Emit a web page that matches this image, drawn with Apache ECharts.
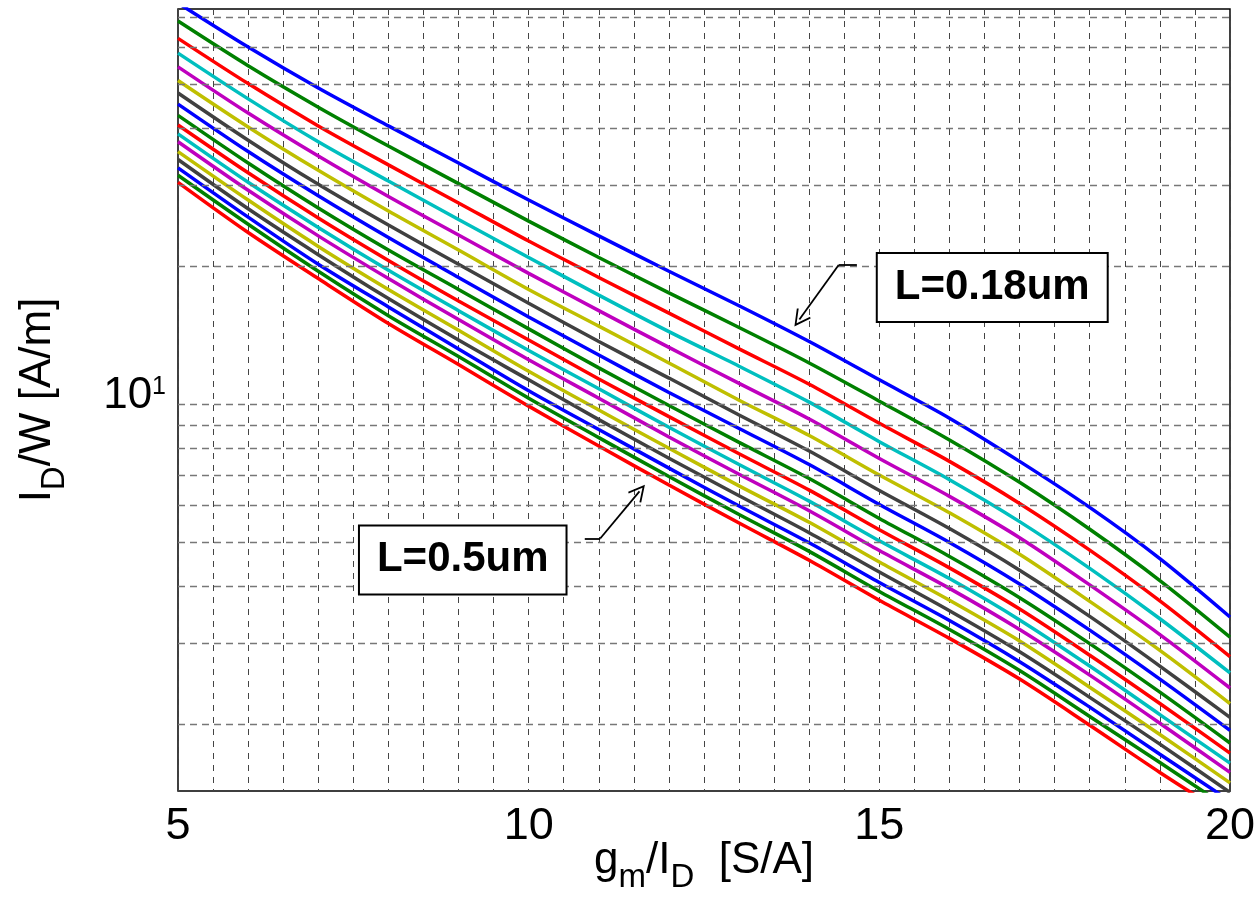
<!DOCTYPE html>
<html>
<head>
<meta charset="utf-8">
<title>ID/W vs gm/ID</title>
<script src="https://cdn.jsdelivr.net/npm/echarts@6/dist/echarts.min.js"></script>
<style>
    html, body { margin: 0; padding: 0; background: #fff; }
    #main { width: 1259px; height: 920px; }
</style>
</head>
<body>
<div id="main"></div>
<script type="text/javascript">
    // gm/ID [S/A] sample points
    var gmId = [5, 6, 7, 8, 9, 10, 11, 12, 13, 14, 15, 16, 17, 18, 19, 20];
    // channel lengths, top curve to bottom curve
    var lengths = ['0.18', '0.20', '0.22', '0.24', '0.26', '0.28', '0.30', '0.32', '0.34',
                   '0.36', '0.38', '0.40', '0.42', '0.44', '0.46', '0.48', '0.50'];
    // ID/W [A/m]
    var L018 = [75.1, 60.2, 49.0, 40.5, 33.6, 27.9, 23.3, 19.5, 16.4, 13.7, 11.3, 9.32, 7.50, 5.95, 4.60, 3.43];
    var L020 = [68.6, 54.8, 44.5, 36.6, 30.3, 25.1, 20.9, 17.5, 14.7, 12.3, 10.15, 8.35, 6.75, 5.33, 4.12, 3.10];
    var L022 = [62.9, 50.1, 40.5, 33.3, 27.5, 22.7, 18.9, 15.8, 13.2, 11.05, 9.08, 7.50, 6.07, 4.80, 3.72, 2.81];
    var L024 = [58.4, 46.4, 37.4, 30.7, 25.3, 20.9, 17.3, 14.4, 12.1, 10.1, 8.28, 6.84, 5.54, 4.38, 3.40, 2.59];
    var L026 = [54.5, 43.2, 34.8, 28.4, 23.4, 19.3, 16.0, 13.3, 11.1, 9.28, 7.61, 6.29, 5.11, 4.03, 3.14, 2.40];
    var L028 = [50.9, 40.3, 32.4, 26.4, 21.7, 17.8, 14.8, 12.3, 10.2, 8.54, 7.00, 5.79, 4.70, 3.71, 2.90, 2.22];
    var L030 = [47.8, 37.7, 30.2, 24.6, 20.2, 16.6, 13.7, 11.4, 9.47, 7.90, 6.48, 5.35, 4.34, 3.44, 2.68, 2.07];
    var L032 = [45.2, 35.6, 28.5, 23.1, 18.9, 15.5, 12.8, 10.6, 8.85, 7.38, 6.04, 4.99, 4.05, 3.21, 2.51, 1.94];
    var L034 = [42.7, 33.6, 26.8, 21.7, 17.8, 14.6, 12.0, 9.93, 8.25, 6.88, 5.63, 4.65, 3.78, 3.00, 2.35, 1.82];
    var L036 = [40.7, 32.0, 25.5, 20.6, 16.8, 13.8, 11.35, 9.39, 7.79, 6.49, 5.32, 4.39, 3.57, 2.83, 2.22, 1.73];
    var L038 = [38.9, 30.5, 24.3, 19.6, 16.0, 13.1, 10.8, 8.90, 7.38, 6.14, 5.03, 4.16, 3.38, 2.68, 2.10, 1.645];
    var L040 = [37.4, 29.3, 23.3, 18.8, 15.3, 12.5, 10.3, 8.48, 7.03, 5.85, 4.79, 3.96, 3.22, 2.56, 2.01, 1.57];
    var L042 = [35.6, 27.9, 22.1, 17.8, 14.5, 11.8, 9.71, 8.01, 6.63, 5.52, 4.52, 3.73, 3.04, 2.41, 1.90, 1.49];
    var L044 = [34.2, 26.7, 21.2, 17.0, 13.8, 11.3, 9.25, 7.62, 6.31, 5.24, 4.30, 3.54, 2.88, 2.29, 1.81, 1.42];
    var L046 = [32.8, 25.6, 20.2, 16.3, 13.2, 10.7, 8.80, 7.25, 5.99, 4.98, 4.08, 3.37, 2.74, 2.18, 1.72, 1.36];
    var L048 = [31.6, 24.7, 19.5, 15.6, 12.7, 10.3, 8.45, 6.95, 5.74, 4.77, 3.90, 3.22, 2.62, 2.08, 1.65, 1.305];
    var L050 = [30.5, 23.7, 18.8, 15.0, 12.2, 9.90, 8.10, 6.66, 5.50, 4.56, 3.73, 3.08, 2.51, 1.99, 1.57, 1.254];
    var curves = [L018, L020, L022, L024, L026, L028, L030, L032, L034,
                  L036, L038, L040, L042, L044, L046, L048, L050];

    // axis ranges and grid values
    var xMin = 5, xMax = 20, xStep = 5;
    var yMin = 1.43, yMax = 72.9;
    var yGridValues = [2, 3, 4, 5, 6, 7, 8, 9, 10, 20, 30, 40, 50, 60, 70];

    // matlab default color order
    var colors = ['#0000ff', '#008000', '#ff0000', '#00bfbf', '#bf00bf', '#bfbf00', '#404040'];

    var font = 'Liberation Sans, Arial, Helvetica, sans-serif';
    var chevron = 'path://M0,0 L9,15 L7.4,16 L0,3.6 L-7.4,16 L-9,15 Z';

    var myChart = echarts.init(document.getElementById('main'));

    var series = [];
    // horizontal dashed grid on the log axis (2..9 and 20..70 per decade)
    series.push({
        type: 'line',
        data: [[xMin, 10]],
        showSymbol: false,
        lineStyle: {opacity: 0},
        silent: true,
        markLine: {
            silent: true,
            animation: false,
            symbol: 'none',
            label: {show: false},
            lineStyle: {color: '#777', type: [7, 5], width: 1.3},
            data: yGridValues.map(function (v) { return {yAxis: v}; })
        }
    });

    curves.forEach(function (c, i) {
        series.push({
            name: 'L=' + lengths[i] + 'um',
            type: 'line',
            data: gmId.map(function (x, j) { return [x, c[j]]; }),
            showSymbol: false,
            symbol: 'none',
            smooth: 0.3,
            clip: true,
            lineStyle: {width: 3.5, color: colors[i % 7]},
            itemStyle: {color: colors[i % 7]},
            z: 3
        });
    });

    // annotations
    series.push({
        type: 'line',
        data: [[xMin, 10]],
        showSymbol: false,
        lineStyle: {opacity: 0},
        silent: true,
        z: 10,
        markLine: {
            silent: true,
            animation: false,
            symbol: 'none',
            label: {show: false},
            lineStyle: {color: '#000', width: 1.8, type: 'solid'},
            data: [
                [{coord: [14.68, 20.12]}, {coord: [14.42, 20.12]}],
                [{coord: [14.42, 20.12]}, {coord: [13.86, 15.3], symbol: chevron, symbolSize: [17, 17]}],
                [{coord: [10.80, 5.09]}, {coord: [11.02, 5.09]}],
                [{coord: [11.02, 5.09]}, {coord: [11.58, 6.45], symbol: chevron, symbolSize: [17, 17]}]
            ]
        },
        markPoint: {
            silent: true,
            animation: false,
            symbol: 'rect',
            symbolSize: 1,
            itemStyle: {color: 'rgba(0,0,0,0)'},
            label: {
                show: true,
                position: 'inside',
                formatter: '{b}',
                fontFamily: font,
                fontSize: 42,
                fontWeight: 'bold',
                color: '#000',
                lineHeight: 46,
                backgroundColor: '#fff',
                borderColor: '#000',
                borderWidth: 2,
                padding: [11, 17, 10, 17]
            },
            data: [
                {name: 'L=0.18um', coord: [16.61, 17.97]},
                {name: 'L=0.5um', coord: [9.06, 4.57]}
            ]
        }
    });

    var dashX = {color: '#444', type: [6, 6], width: 1};

    var option = {
        backgroundColor: '#fff',
        animation: false,
        grid: {
            left: 178,
            right: 29,
            top: 9,
            bottom: 129,
            show: true,
            backgroundColor: '#fff',
            borderColor: '#000',
            borderWidth: 1.5
        },
        xAxis: {
            type: 'value',
            min: xMin,
            max: xMax,
            interval: xStep,
            axisLine: {show: false},
            axisTick: {show: false},
            axisLabel: {
                fontFamily: font, fontSize: 45, lineHeight: 45, color: '#000', margin: 13,
                showMinLabel: true, showMaxLabel: true
            },
            splitLine: {show: true, lineStyle: dashX},
            minorTick: {show: false, splitNumber: 10},
            minorSplitLine: {show: true, lineStyle: dashX},
            name: '{a|g}{s|m}{a|/I}{s|D}{a|  [S/A]}',
            nameLocation: 'middle',
            nameMoveOverlap: false,
            nameGap: 48,
            nameTextStyle: {
                rich: {
                    a: {fontFamily: font, fontSize: 44, lineHeight: 44, color: '#000', verticalAlign: 'top'},
                    s: {fontFamily: font, fontSize: 33, lineHeight: 33, color: '#000', verticalAlign: 'top', padding: [22, 0, 0, 0]}
                }
            }
        },
        yAxis: {
            type: 'log',
            logBase: 10,
            min: yMin,
            max: yMax,
            axisLine: {show: false},
            axisTick: {show: false},
            splitLine: {show: false},
            axisLabel: {
                margin: 12,
                padding: [0, 0, 16, 0],
                formatter: function (v) {
                    return Math.abs(v - 10) < 1e-6 ? '{b|10}{s|1}' : '';
                },
                rich: {
                    b: {fontFamily: font, fontSize: 44, lineHeight: 44, color: '#000', verticalAlign: 'bottom', padding: [16, 0, 0, 0]},
                    s: {fontFamily: font, fontSize: 25, lineHeight: 25, color: '#000', verticalAlign: 'top'}
                }
            },
            name: '{a|I}{s|D}{a|/W [A/m]}',
            nameLocation: 'middle',
            nameMoveOverlap: false,
            nameRotate: 90,
            nameGap: 118,
            nameTextStyle: {
                rich: {
                    a: {fontFamily: font, fontSize: 44, lineHeight: 44, color: '#000', verticalAlign: 'top'},
                    s: {fontFamily: font, fontSize: 33, lineHeight: 33, color: '#000', verticalAlign: 'top', padding: [22, 0, 0, 0]}
                }
            }
        },
        series: series
    };

    myChart.setOption(option);
</script>
</body>
</html>
